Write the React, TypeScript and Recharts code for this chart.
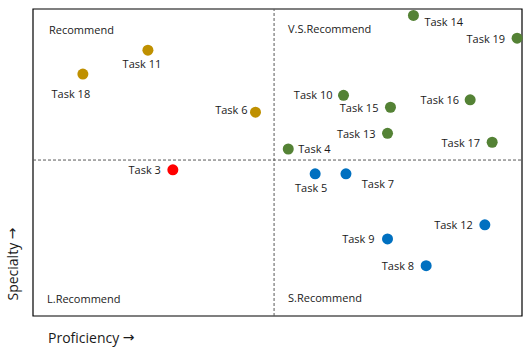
import { ReferenceArea, ReferenceLine, Scatter, ScatterChart, XAxis, YAxis } from 'recharts'

// quadrant groups
const recommendTasks = ['Task 11', 'Task 18', 'Task 6']
const recommendProficiency = [23.5, 10.2, 45.5]
const recommendSpecialty = [86.6, 78.8, 66.4]

const lowTasks = ['Task 3']
const lowProficiency = [28.6]
const lowSpecialty = [47.6]

const strongTasks = ['Task 14', 'Task 19', 'Task 10', 'Task 15', 'Task 16', 'Task 13', 'Task 17', 'Task 4']
const strongProficiency = [77.8, 99.0, 63.5, 73.1, 89.4, 72.5, 93.9, 52.2]
const strongSpecialty = [97.9, 90.5, 71.9, 68.0, 70.4, 59.5, 56.6, 54.4]

const solidTasks = ['Task 5', 'Task 7', 'Task 12', 'Task 9', 'Task 8']
const solidProficiency = [57.7, 64.0, 92.4, 72.5, 80.4]
const solidSpecialty = [46.3, 46.3, 29.7, 25.1, 16.4]

const splitProficiency = 49.3
const splitSpecialty = 50.8

const FONT = '"Open Sans", sans-serif'
const TEXT = '#1a1a1a'

// where each task's name sits next to its dot: [anchor, dx, dy]
const labelSpot: Record<string, [string, number, number]> = {
	'Task 11': ['middle', -6, 13],
	'Task 18': ['middle', -12, 19],
	'Task 6': ['end', -8, -3],
	'Task 3': ['end', -12, 0],
	'Task 14': ['start', 11, 6],
	'Task 19': ['end', -12, 0],
	'Task 10': ['end', -11, -1],
	'Task 15': ['end', -12, 0],
	'Task 16': ['end', -11, 0],
	'Task 13': ['end', -12, 0],
	'Task 17': ['end', -12, 0],
	'Task 4': ['start', 10, 0],
	'Task 5': ['middle', -4, 14],
	'Task 7': ['middle', 32, 10],
	'Task 12': ['end', -12, 0],
	'Task 9': ['end', -13, 0],
	'Task 8': ['end', -12, 0],
}

const toPoints = (names: string[], xs: number[], ys: number[]) =>
	names.map((name, i) => ({ name, x: xs[i], y: ys[i] }))

const dot = (color: string) => (props: any) => {
	const { cx, cy, payload } = props
	const [anchor, dx, dy] = labelSpot[payload.name] ?? ['start', 10, 0]
	return (
		<g>
			<circle cx={cx} cy={cy} r={5.5} fill={color} />
			<text
				x={cx + dx}
				y={cy + dy}
				textAnchor={anchor as any}
				dominantBaseline='central'
				style={{ fontFamily: FONT, fontSize: 11, fill: TEXT }}
			>
				{payload.name}
			</text>
		</g>
	)
}

const arrow = { fontFamily: '"DejaVu Sans", sans-serif', fontSize: 14 }

const FrameText = (props: any) => {
	const vb = props.viewBox ?? { x: 33, y: 9, width: 489, height: 307 }
	const { x, y, width, height } = vb
	const mid = x + (width * splitProficiency) / 100
	const bottom = y + height
	const small = { fontFamily: FONT, fontSize: 11, fill: TEXT }
	const big = { fontFamily: FONT, fontSize: 14, fill: TEXT }
	return (
		<g>
			<text x={x + 16} y={y + 20} dominantBaseline='central' style={small}>
				Recommend
			</text>
			<text x={mid + 14} y={y + 19} dominantBaseline='central' style={small}>
				V.S.Recommend
			</text>
			<text x={x + 14} y={bottom - 18} dominantBaseline='central' style={small}>
				L.Recommend
			</text>
			<text x={mid + 14} y={bottom - 19} dominantBaseline='central' style={small}>
				S.Recommend
			</text>
			<text x={x + 15} y={bottom + 21} dominantBaseline='central' style={big}>
				Proficiency <tspan style={arrow}>→</tspan>
			</text>
			<text
				x={12}
				y={bottom - 52}
				textAnchor='middle'
				dominantBaseline='central'
				transform={`rotate(-90 12 ${bottom - 52})`}
				style={big}
			>
				Specialty <tspan style={arrow}>→</tspan>
			</text>
		</g>
	)
}

export default function App() {
	return (
		<div style={{ position: 'absolute', left: 0, top: 0, background: '#fff' }}>
			<ScatterChart
				width={530}
				height={351}
				margin={{ top: 9, right: 8, bottom: 35, left: 33 }}
			>
				<XAxis type='number' dataKey='x' domain={[0, 100]} hide />
				<YAxis type='number' dataKey='y' domain={[0, 100]} hide />
				<ReferenceLine
					x={splitProficiency}
					stroke='#595959'
					strokeDasharray='3 2'
				/>
				<ReferenceLine
					y={splitSpecialty}
					stroke='#595959'
					strokeDasharray='3 2'
				/>
				<ReferenceArea
					x1={0}
					x2={100}
					y1={0}
					y2={100}
					fill='none'
					fillOpacity={0}
					stroke='#000'
					strokeWidth={1.2}
					label={FrameText}
				/>
				<Scatter
					data={toPoints(recommendTasks, recommendProficiency, recommendSpecialty)}
					shape={dot('#bf9000')}
					isAnimationActive={false}
				/>
				<Scatter
					data={toPoints(lowTasks, lowProficiency, lowSpecialty)}
					shape={dot('#ff0000')}
					isAnimationActive={false}
				/>
				<Scatter
					data={toPoints(strongTasks, strongProficiency, strongSpecialty)}
					shape={dot('#548235')}
					isAnimationActive={false}
				/>
				<Scatter
					data={toPoints(solidTasks, solidProficiency, solidSpecialty)}
					shape={dot('#0070c0')}
					isAnimationActive={false}
				/>
			</ScatterChart>
		</div>
	)
}
